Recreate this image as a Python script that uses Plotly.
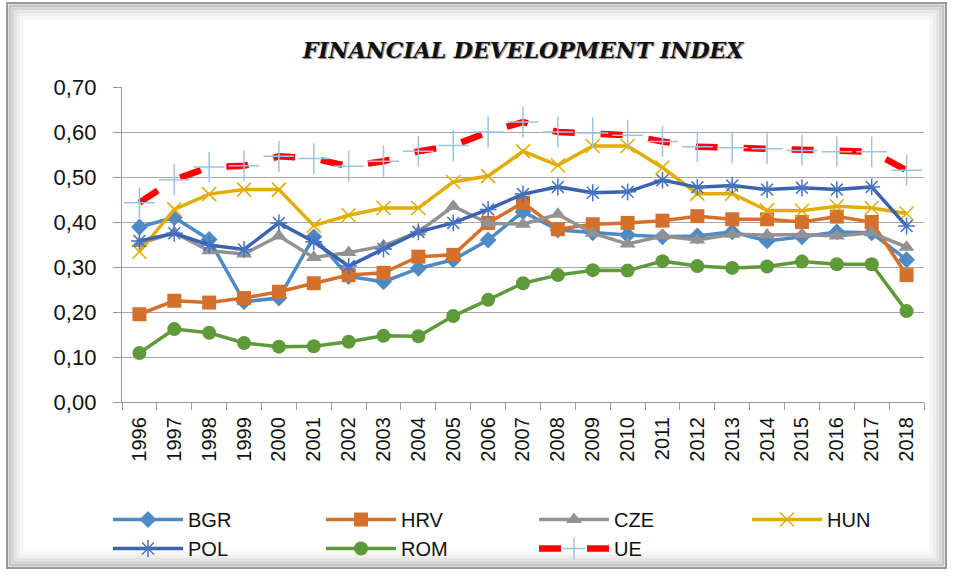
import plotly.graph_objects as go

years = [str(y) for y in range(1996, 2019)]

BGR = [0.389, 0.410, 0.361, 0.223, 0.231, 0.367, 0.279, 0.267, 0.297, 0.316, 0.360, 0.423,
       0.382, 0.376, 0.371, 0.367, 0.369, 0.378, 0.358, 0.367, 0.378, 0.376, 0.316]
HRV = [0.195, 0.225, 0.221, 0.231, 0.245, 0.264, 0.282, 0.287, 0.323, 0.327, 0.398, 0.443,
       0.384, 0.395, 0.398, 0.403, 0.413, 0.406, 0.406, 0.400, 0.412, 0.400, 0.282]
CZE = [0.352, 0.376, 0.336, 0.329, 0.369, 0.321, 0.332, 0.347, 0.378, 0.435, 0.397, 0.395,
       0.417, 0.375, 0.351, 0.369, 0.360, 0.373, 0.371, 0.372, 0.369, 0.376, 0.344]
HUN = [0.334, 0.428, 0.462, 0.472, 0.472, 0.392, 0.415, 0.431, 0.431, 0.489, 0.502, 0.557,
       0.526, 0.569, 0.569, 0.521, 0.463, 0.463, 0.426, 0.425, 0.435, 0.431, 0.419]
POL = [0.358, 0.375, 0.349, 0.339, 0.398, 0.356, 0.302, 0.340, 0.378, 0.398, 0.428, 0.462,
       0.478, 0.465, 0.467, 0.493, 0.477, 0.481, 0.472, 0.476, 0.472, 0.478, 0.391]
ROM = [0.109, 0.162, 0.154, 0.131, 0.123, 0.124, 0.134, 0.147, 0.146, 0.191, 0.227, 0.264,
       0.282, 0.293, 0.292, 0.313, 0.302, 0.298, 0.301, 0.312, 0.306, 0.306, 0.202]
UE = [0.443, 0.494, 0.522, 0.525, 0.546, 0.541, 0.524, 0.535, 0.557, 0.570, 0.600, 0.622,
      0.600, 0.598, 0.593, 0.579, 0.567, 0.565, 0.563, 0.559, 0.556, 0.556, 0.515]

y_ticks = [0.0, 0.1, 0.2, 0.3, 0.4, 0.5, 0.6, 0.7]

W, H = 956, 575
ML, MR, MT, MB = 122, 32, 87, 173
PW, PH = W - ML - MR, H - MT - MB


def px(x):
    return (x - ML) / PW


def py(y):
    return (H - MB - y) / PH


series = [
    ("BGR", BGR, "#4E8AC4", dict(symbol="diamond", size=13, color="#4E8AC4")),
    ("HRV", HRV, "#D4702C", dict(symbol="square", size=14, color="#D4702C")),
    ("CZE", CZE, "#929292", dict(symbol="triangle-up", size=14, color="#929292")),
    ("HUN", HUN, "#E2AC00", dict(symbol="x-thin-open", size=14, color="#E2AC00",
                                 line=dict(color="#E2AC00", width=1.5))),
    ("POL", POL, "#3B62AE", dict(symbol="asterisk-open", size=14, color="#4472C4",
                                 line=dict(color="#4472C4", width=1.5))),
    ("ROM", ROM, "#5F9A3A", dict(symbol="circle", size=14, color="#5F9A3A")),
]

fig = go.Figure()
for name, vals, col, mk in series:
    fig.add_trace(go.Scatter(x=years, y=vals, name=name, mode="lines+markers",
                             line=dict(color=col, width=3.5), marker=mk))

fig.add_trace(go.Scatter(x=years, y=UE, name="UE", mode="lines+markers",
                         line=dict(color="#FF0000", width=6.5, dash="22px,26px"),
                         marker=dict(symbol="cross-thin-open", size=22, color="#9DC3E6",
                                     line=dict(color="#9DC3E6", width=1.5))))

shapes = []
# outer frame with bevel
frame_cols = ["#9a9a9a", "#c4c4c4", "#d6d6d6", "#e4e4e4", "#eeeeee", "#f6f6f6"]
for i, c in enumerate(frame_cols):
    off = 7 + i * 3
    shapes.append(dict(type="rect", xref="paper", yref="paper", layer="below",
                       x0=px(off), x1=px(W - 10 - i * 3), y0=py(3 + i * 3), y1=py(H - 7 - i * 3),
                       line=dict(color=c, width=2 if i == 0 else 3), fillcolor="rgba(0,0,0,0)"))

fig.update_layout(
    width=W, height=H,
    margin=dict(l=ML, r=MR, t=MT, b=MB, autoexpand=False),
    paper_bgcolor="white", plot_bgcolor="white",
    separators=", ",
    shapes=shapes,
    title=dict(text="FINANCIAL DEVELOPMENT INDEX", x=523 / W, xanchor="center",
               y=1 - 50 / H, yanchor="middle", yref="container",
               font=dict(family="DejaVu Serif", size=22, color="#111111",
                         style="italic", weight="bold", shadow="1px 1px 1px #888")),
    font=dict(family="Liberation Sans", color="#111111"),
    xaxis=dict(type="category", tickangle=-90, tickson="boundaries", ticks="outside",
               ticklen=7, tickcolor="#9a9a9a", showline=True, linecolor="#9a9a9a",
               linewidth=1.3, showgrid=False, tickfont=dict(size=20, family="Liberation Sans"),
               range=[-0.5, 22.5], automargin=False, ticklabelstandoff=6),
    yaxis=dict(range=[0, 0.70], tickvals=y_ticks, tickformat=".2f", ticks="outside",
               ticklen=8, tickcolor="#9a9a9a", showline=True, linecolor="#9a9a9a",
               linewidth=1.3, showgrid=True, gridcolor="#a6a6a6", gridwidth=1.3,
               zeroline=False, tickfont=dict(size=22, family="Liberation Sans"),
               automargin=False, ticklabelstandoff=12),
    legend=dict(orientation="h", x=px(108), y=py(500), xanchor="left", yanchor="top",
                entrywidth=128, entrywidthmode="pixels", itemwidth=70,
                font=dict(size=20, family="Liberation Sans"), tracegroupgap=0,
                bgcolor="rgba(0,0,0,0)"),
)

fig.write_html("out.html", config={"displayModeBar": False},
               post_script="document.body.style.margin='0';")
